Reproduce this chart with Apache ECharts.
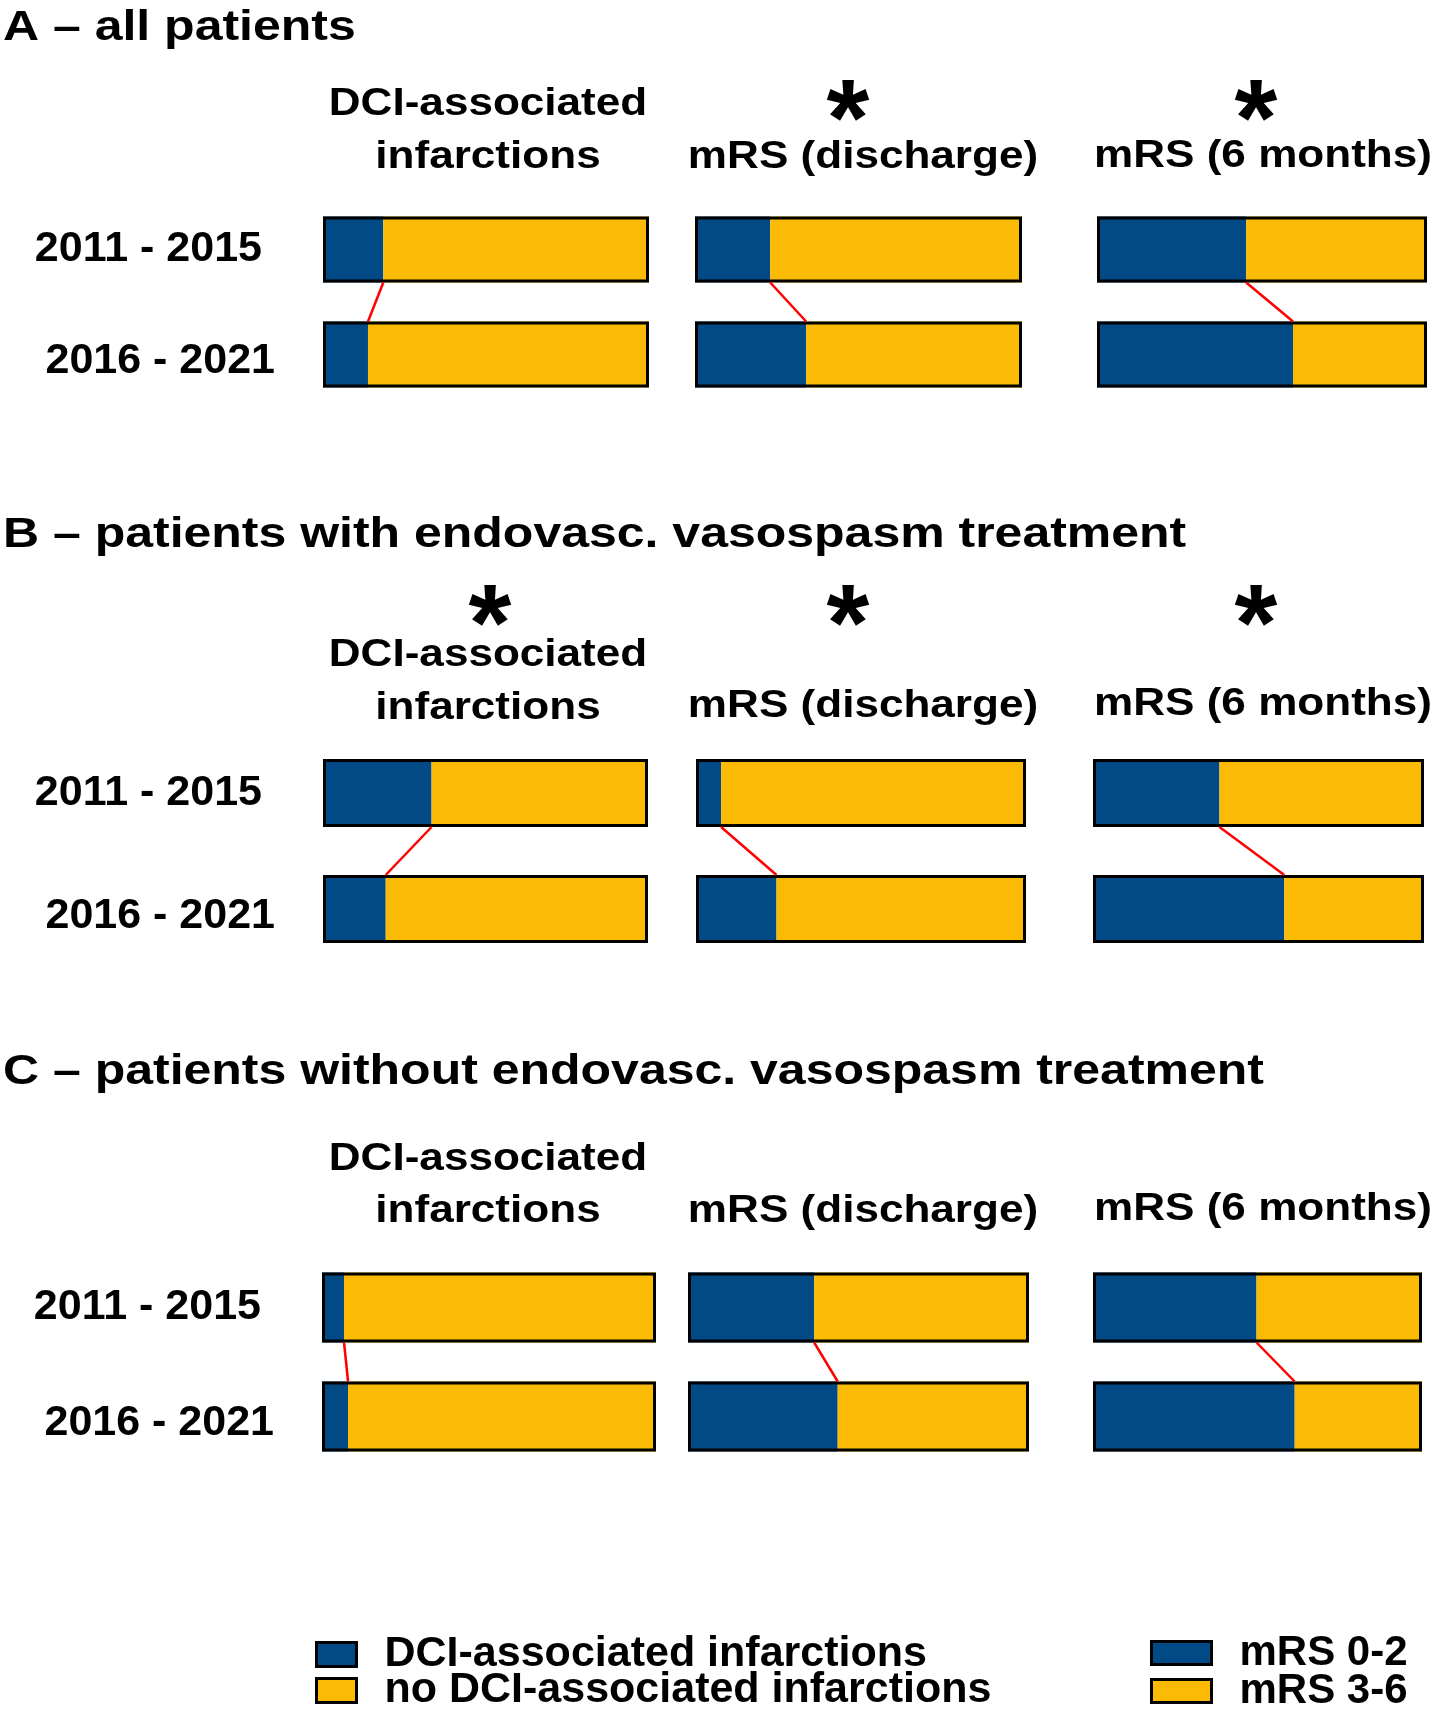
<!DOCTYPE html>
<html><head><meta charset="utf-8">
<script src="https://cdn.jsdelivr.net/npm/echarts@6/dist/echarts.min.js"></script>
<style>html,body{margin:0;padding:0;background:#fff}#c{width:1441px;height:1718px}</style>
</head><body><div id="c"></div>
<script>
const FONT = '"Liberation Sans", Arial, Helvetica, sans-serif';
const BLUE = '#024a86';
const YELLOW = '#fbbb04';

// ---- text ----
const panelTitles = [
  'A \u2013 all patients',
  'B \u2013 patients with endovasc. vasospasm treatment',
  'C \u2013 patients without endovasc. vasospasm treatment'
];
const periods = ['2011 - 2015', '2016 - 2021'];
const headerLines = [['DCI-associated', 'infarctions'], ['mRS (discharge)'], ['mRS (6 months)']];
const dciNames = ['DCI-associated infarctions', 'no DCI-associated infarctions'];
const mrsNames = ['mRS 0-2', 'mRS 3-6'];

// ---- values (% of patients), [2011-2015, 2016-2021] ----
const A_dci = [18.5, 13.8];
const A_noDci = [81.5, 86.2];
const A_mrsDisGood = [23.0, 34.0];
const A_mrsDisPoor = [77.0, 66.0];
const A_mrs6Good = [45.2, 59.4];
const A_mrs6Poor = [54.8, 40.6];

const B_dci = [33.4, 19.3];
const B_noDci = [66.6, 80.7];
const B_mrsDisGood = [7.6, 24.4];
const B_mrsDisPoor = [92.4, 75.6];
const B_mrs6Good = [38.2, 57.8];
const B_mrs6Poor = [61.8, 42.2];

const C_dci = [6.6, 7.8];
const C_noDci = [93.4, 92.2];
const C_mrsDisGood = [37.0, 43.9];
const C_mrsDisPoor = [63.0, 56.1];
const C_mrs6Good = [49.7, 61.3];
const C_mrs6Poor = [50.3, 38.7];

// significance markers (*) per measure
const A_sig = [false, true, true];
const B_sig = [true, true, true];
const C_sig = [false, false, false];

// ---- layout (positions only) ----
const layout = [
  { titleY: 28, starY: 103, headY: [[105, 158], [158], [157]], gridTop: 197, gridH: 210, barW: 66,
    cols: [[323, 649], [695, 1022], [1097, 1427]] },
  { titleY: 535, starY: 608, headY: [[656, 709], [707], [705]], gridTop: 735, gridH: 232, barW: 68,
    cols: [[323, 648], [696, 1026], [1093, 1424]] },
  { titleY: 1072, starY: 0, headY: [[1160, 1212], [1212], [1210]], gridTop: 1253, gridH: 218, barW: 70,
    cols: [[322, 656], [688, 1029], [1093, 1422]] }
];
const headX = [488, 863, 1263];
const starX = [490, 848, 1256];

const panels = [
  { first: [A_dci, A_mrsDisGood, A_mrs6Good], second: [A_noDci, A_mrsDisPoor, A_mrs6Poor], sig: A_sig },
  { first: [B_dci, B_mrsDisGood, B_mrs6Good], second: [B_noDci, B_mrsDisPoor, B_mrs6Poor], sig: B_sig },
  { first: [C_dci, C_mrsDisGood, C_mrs6Good], second: [C_noDci, C_mrsDisPoor, C_mrs6Poor], sig: C_sig }
];

const grids = [], xAxes = [], yAxes = [], series = [], graphics = [];

function txt(text, x, y, size, sx, align) {
  return { type: 'text', x: x, y: y, scaleX: sx, silent: true,
    style: { text: text, fontSize: size, fontWeight: 'bold', fontFamily: FONT, fill: '#000',
      align: align, verticalAlign: 'middle' } };
}

const STAR = 110;

panels.forEach(function (pan, p) {
  const L = layout[p];
  graphics.push(txt(panelTitles[p], 3, L.titleY, 42, 1.19, 'left'));
  headerLines.forEach(function (lines, c) {
    lines.forEach(function (line, k) {
      graphics.push(txt(line, headX[c], L.headY[c][k], 38, 1.16, 'center'));
    });
    if (pan.sig[c]) graphics.push(txt('*', starX[c], L.starY + 0.2 * STAR, STAR, 1, 'center'));
  });

  for (let c = 0; c < 3; c++) {
    const g = p * 3 + c;
    const x0 = L.cols[c][0], x1 = L.cols[c][1];
    const bw = L.barW;
    const names = c === 0 ? dciNames : mrsNames;
    const first = pan.first[c], second = pan.second[c];
    const totals = first.map(function (v, i) { return v + second[i]; });
    grids.push({ left: x0, top: L.gridTop, width: x1 - x0, height: L.gridH });
    xAxes.push({ gridIndex: g, type: 'value', min: 0, max: 100, show: false });
    yAxes.push({
      gridIndex: g, type: 'category', data: periods, inverse: true,
      axisLine: { show: false }, axisTick: { show: false }, splitLine: { show: false },
      axisLabel: {
        show: c === 0, margin: 48,
        formatter: function (v, i) { return (i === 0 ? '{a|' : '{b|') + v + '}'; },
        rich: {
          a: { padding: [0, 13, 0, 0], fontSize: 43, fontWeight: 'bold', fontFamily: FONT, color: '#000' },
          b: { padding: [14, 0, 0, 0], fontSize: 43, fontWeight: 'bold', fontFamily: FONT, color: '#000' }
        }
      }
    });
    series.push({ type: 'bar', name: names[0], xAxisIndex: g, yAxisIndex: g, stack: 's' + g,
      barWidth: bw, barGap: '-100%', data: first, itemStyle: { color: BLUE }, silent: true });
    series.push({ type: 'bar', name: names[1], xAxisIndex: g, yAxisIndex: g, stack: 's' + g,
      barWidth: bw, barGap: '-100%', data: second, itemStyle: { color: YELLOW }, silent: true });
    series.push({ type: 'bar', name: 'outline', xAxisIndex: g, yAxisIndex: g,
      barWidth: bw, barGap: '-100%', data: totals, z: 3, silent: true,
      itemStyle: { color: 'rgba(0,0,0,0)', borderColor: '#000', borderWidth: 3 } });
    series.push({
      type: 'custom', name: 'link', xAxisIndex: g, yAxisIndex: g, z: 4, silent: true,
      data: [[first[0], 0, first[1], 1]], encode: { x: [0, 2], y: [1, 3] },
      renderItem: (function (half) {
        return function (params, api) {
          const p1 = api.coord([api.value(0), api.value(1)]);
          const p2 = api.coord([api.value(2), api.value(3)]);
          return { type: 'line', shape: { x1: p1[0], y1: p1[1] + half, x2: p2[0], y2: p2[1] - half },
            style: { stroke: '#ff0000', lineWidth: 2.5 } };
        };
      })(bw / 2)
    });
  }
});

const legendText = function (size) {
  return { fontSize: size, fontWeight: 'bold', fontFamily: FONT, color: '#000', padding: [0, 0, 0, 23] };
};

const chart = echarts.init(document.getElementById('c'), null, { renderer: 'canvas' });
chart.setOption({
  animation: false,
  backgroundColor: '#fff',
  grid: grids, xAxis: xAxes, yAxis: yAxes, series: series,
  legend: [
    { data: dciNames, orient: 'vertical', left: 315, top: 1633, height: 200, padding: 0, itemWidth: 40, itemHeight: 24, itemGap: -7,
      icon: 'rect', selectedMode: false, itemStyle: { borderColor: '#000', borderWidth: 3 }, textStyle: legendText(43) },
    { data: mrsNames, orient: 'vertical', left: 1150, top: 1632, height: 200, padding: 0, itemWidth: 60, itemHeight: 23, itemGap: -4,
      icon: 'rect', selectedMode: false, itemStyle: { borderColor: '#000', borderWidth: 3 }, textStyle: legendText(42) }
  ],
  graphic: graphics
});
</script></body></html>
